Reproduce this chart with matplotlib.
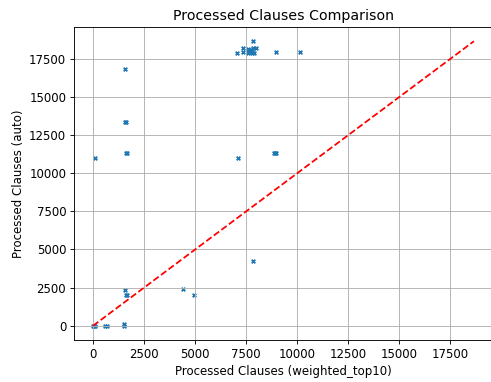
import numpy as np
import matplotlib
matplotlib.use("Agg")
import matplotlib.pyplot as plt

# processed clauses per problem: weighted_top10 vs auto
weighted = [7040, 7350, 7350, 7590, 7600, 7650, 7700, 7790, 7800, 7850, 7900, 8000, 7840,
            8940, 10140, 1560, 1570, 1590, 80, 1630, 1660, 7120, 8880, 8920, 8960,
            7840, 1560, 1610, 1650, 4380, 4920, 1510, 1520, 0, 40, 90, 600, 680]
auto = [17850, 18200, 17940, 18150, 17880, 18090, 17950, 18100, 17880, 18190, 17880, 18200, 18650,
        17950, 17910, 16840, 13350, 13350, 11010, 11290, 11290, 11010, 11290, 11290, 11290,
        4240, 2360, 2010, 2010, 2380, 2010, 130, 0, 0, 0, 0, 0, 0]

weighted = np.array(weighted)
auto = np.array(auto)
max_val = max(weighted.max(), auto.max())

plt.rcParams['font.size'] = 10.6

fig = plt.figure(figsize=(491 / 80, 382 / 80), dpi=80)
ax = fig.add_axes([0.1507, 0.110, 0.8534, 0.8194])
ax.scatter(weighted, auto, marker='x', s=11, linewidths=1.6)
ax.plot([0, max_val], [0, max_val], 'r--', lw=1.6)
ax.set_xlabel('Processed Clauses (weighted_top10)')
ax.set_ylabel('Processed Clauses (auto)')
ax.set_title('Processed Clauses Comparison', fontsize=12.7)
ax.grid(True)
fig.savefig('out.png', dpi=80)
